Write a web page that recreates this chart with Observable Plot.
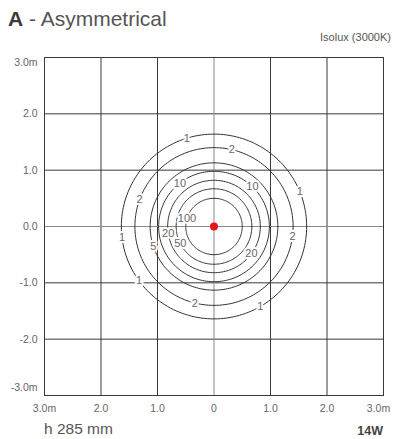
<!DOCTYPE html>
<html><head><meta charset="utf-8">
<script src="https://cdn.jsdelivr.net/npm/d3@7"></script>
<script src="https://cdn.jsdelivr.net/npm/@observablehq/plot@0.6"></script>
<style>
body{margin:0;background:#fff;font-family:"Liberation Sans",Arial,sans-serif;}
#wrap{position:relative;width:399px;height:439px;overflow:hidden;}
#chart{position:absolute;left:0;top:0;}
#title{position:absolute;left:8px;top:7px;font-size:21px;color:#555;white-space:nowrap;}
#title b{color:#3a3a3a;}
#sub{position:absolute;right:8px;top:31px;font-size:11px;color:#555;white-space:nowrap;}
#h{position:absolute;left:44px;top:420px;font-size:15.5px;color:#555;white-space:nowrap;}
#w{position:absolute;right:16px;top:424px;font-size:12.5px;font-weight:bold;color:#444;white-space:nowrap;}
</style></head><body>
<div id="wrap">
  <div id="chart"></div>
  <div id="title"><b>A</b> - Asymmetrical</div>
  <div id="sub">Isolux (3000K)</div>
  <div id="h">h 285 mm</div>
  <div id="w">14W</div>
</div>
<script>
// Isolux levels (lux) and their contour radius (m)
const levels = [1, 2, 5, 10, 20, 50, 100];
const radii  = [1.64, 1.40, 1.13, 0.98, 0.82, 0.67, 0.50];

// Contour labels: level and angle (degrees) where the label sits on the ring
const labelLevels = [1, 1, 1, 1, 1, 2, 2, 2, 2, 5, 10, 10, 20, 20, 50, 100];
const labelAngles = [187, 107, 22, -60, 216, 77, 160, -7, 256, 198, 128, 46, 189, -36, 207, 163];

// Axis ticks and labels
const xTicks = [-3, -2, -1, 0, 1, 2, 3];
const xTickLabels = ["3.0m", "2.0", "1.0", "0", "1.0", "2.0", "3.0m"];
const yTicks = [3, 2, 1, 0, -1, -2, -3];
const yTickLabels = ["3.0m", "2.0", "1.0", "0.0", "-1.0", "-2.0", "-3.0m"];

// Luminaire position
const source = [{x: 0, y: 0}];

const rOf = new Map(levels.map((l, i) => [l, radii[i]]));
const rings = [];
levels.forEach((l, i) => {
  for (let a = 0; a <= 360; a += 2) {
    const t = a * Math.PI / 180;
    rings.push({level: l, x: radii[i] * Math.cos(t), y: radii[i] * Math.sin(t)});
  }
});
const labels = labelLevels.map((l, i) => {
  const t = labelAngles[i] * Math.PI / 180;
  return {level: l, x: rOf.get(l) * Math.cos(t), y: rOf.get(l) * Math.sin(t)};
});
const xt = xTicks.map((v, i) => ({v, label: xTickLabels[i]}));
const yt = yTicks.map((v, i) => ({v, label: yTickLabels[i]}));
const xMid = xt.slice(1, -1), yMid = yt.slice(1, -1);

const chart = Plot.plot({
  width: 399, height: 439,
  marginLeft: 44, marginRight: 16, marginTop: 57, marginBottom: 44,
  style: {fontFamily: "Liberation Sans, Arial, sans-serif", background: "transparent"},
  x: {domain: [-3, 3], axis: null},
  y: {domain: [-3, 3], axis: null},
  marks: [
    Plot.ruleX(xTicks.filter(v => v !== 0), {stroke: "#3a3a3a", strokeWidth: 1}),
    Plot.ruleY(yTicks.filter(v => v !== 0), {stroke: "#3a3a3a", strokeWidth: 1}),
    Plot.ruleX([0], {stroke: "#8a8a8a", strokeWidth: 1}),
    Plot.ruleY([0], {stroke: "#8a8a8a", strokeWidth: 1}),
    Plot.line(rings, {x: "x", y: "y", z: "level", stroke: "#333", strokeWidth: 1, curve: "linear"}),
    Plot.text(labels, {x: "x", y: "y", text: d => String(d.level), fill: "#666", fontSize: 11,
      stroke: "white", strokeWidth: 4}),
    Plot.dot(source, {x: "x", y: "y", r: 4, fill: "#e8141b", stroke: "none"}),
    // y tick labels
    Plot.text(yMid, {x: -3, y: "v", text: "label", textAnchor: "end", dx: -7, fill: "#666", fontSize: 10.5}),
    Plot.text(yt.slice(0, 1), {x: -3, y: "v", text: "label", textAnchor: "end", dx: -7, dy: 5, fill: "#666", fontSize: 10.5}),
    Plot.text(yt.slice(-1), {x: -3, y: "v", text: "label", textAnchor: "end", dx: -7, dy: -8, fill: "#666", fontSize: 10.5}),
    // x tick labels
    Plot.text(xMid, {x: "v", y: -3, text: "label", dy: 13, fill: "#666", fontSize: 10.5}),
    Plot.text(xt.slice(0, 1), {x: "v", y: -3, text: "label", dy: 13, fill: "#666", fontSize: 10.5}),
    Plot.text(xt.slice(-1), {x: "v", y: -3, text: "label", dy: 13, dx: -5, fill: "#666", fontSize: 10.5}),
    Plot.frame({stroke: "#3a3a3a", strokeWidth: 1})
  ]
});
document.getElementById("chart").appendChild(chart);
</script>
</body></html>
